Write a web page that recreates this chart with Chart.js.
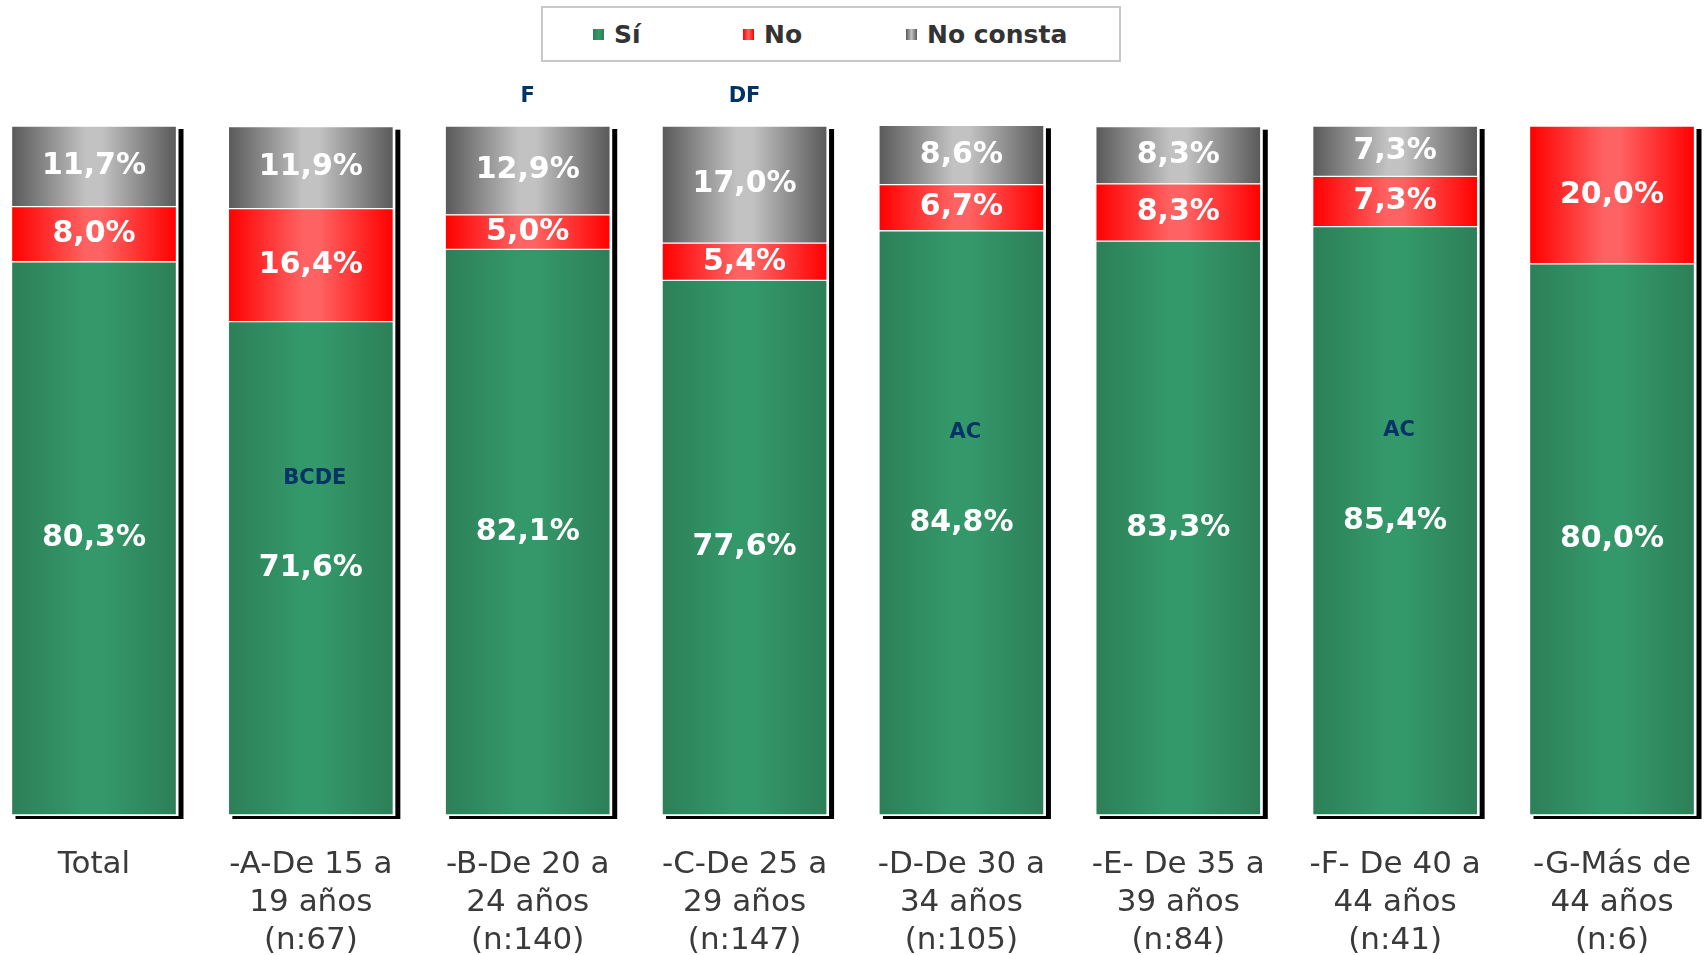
<!DOCTYPE html>
<html>
<head>
<meta charset="utf-8">
<script src="https://cdn.jsdelivr.net/npm/chart.js@4.4.1/dist/chart.umd.min.js"></script>
<style>
    body { margin: 0; background: #fff; }
    #wrap { position: relative; width: 1706px; height: 955px; }
    #legend {
        position: absolute; left: 541px; top: 6px; width: 576px; height: 52px;
        border: 2px solid #c8c8c8; background: #fff;
        font: bold 25px 'DejaVu Sans', sans-serif; color: #333;
    }
    .item { position: absolute; top: 0; height: 52px; display: flex; align-items: center; }
    .box { width: 11px; height: 11px; margin-right: 10px; }
</style>
</head>
<body>
<div id="wrap">
    <canvas id="chart" width="1706" height="955"></canvas>
    <div id="legend"></div>
</div>
<script>
// Datos
const categories = [
    ['Total'],
    ['-A-De 15 a', '19 años', '(n:67)'],
    ['-B-De 20 a', '24 años', '(n:140)'],
    ['-C-De 25 a', '29 años', '(n:147)'],
    ['-D-De 30 a', '34 años', '(n:105)'],
    ['-E- De 35 a', '39 años', '(n:84)'],
    ['-F- De 40 a', '44 años', '(n:41)'],
    ['-G-Más de', '44 años', '(n:6)']
];
const seriesNames = ['Sí', 'No', 'No consta'];
const siValues = [80.3, 71.6, 82.1, 77.6, 84.8, 83.3, 85.4, 80.0];
const noValues = [8.0, 16.4, 5.0, 5.4, 6.7, 8.3, 7.3, 20.0];
const noConstaValues = [11.7, 11.9, 12.9, 17.0, 8.6, 8.3, 7.3, 0];
// letras de significación
const sigInside = ['', 'BCDE', '', '', 'AC', '', 'AC', ''];
const sigAbove = ['', '', 'F', 'DF', '', '', '', ''];

const BAR_W = 165;
const shades = [
    ['#2d7f57', '#34996a'], // verde
    ['#ff0000', '#ff6262'], // rojo
    ['#595959', '#c2c2c2']  // gris
];

function barGradient(idx) {
    return function (ctx) {
        const chart = ctx.chart;
        const [dark, light] = shades[idx];
        if (!chart.chartArea) return dark;
        const x = chart.scales.x.getPixelForValue(ctx.dataIndex);
        const g = chart.ctx.createLinearGradient(x - BAR_W / 2, 0, x + BAR_W / 2, 0);
        g.addColorStop(0, dark);
        g.addColorStop(0.45, light);
        g.addColorStop(0.55, light);
        g.addColorStop(1, dark);
        return g;
    };
}

// leyenda html
const legendEl = document.getElementById('legend');
const legendLeft = [50, 200, 363];
seriesNames.forEach((name, i) => {
    const it = document.createElement('div');
    it.className = 'item';
    it.style.left = legendLeft[i] + 'px';
    const b = document.createElement('span');
    b.className = 'box';
    b.style.background = `linear-gradient(to right, ${shades[i][0]}, ${shades[i][1]}, ${shades[i][0]})`;
    it.appendChild(b);
    it.appendChild(document.createTextNode(name));
    legendEl.appendChild(it);
});

// sombra negra detrás de cada barra
const shadowPlugin = {
    id: 'shadow',
    beforeDatasetsDraw(chart) {
        const c = chart.ctx;
        const y = chart.scales.y;
        const bottom = y.getPixelForValue(0);
        categories.forEach((_, i) => {
            let top = bottom;
            chart.data.datasets.forEach((ds, d) => {
                const el = chart.getDatasetMeta(d).data[i];
                if (ds.data[i] > 0) top = Math.min(top, el.y);
            });
            const x = chart.scales.x.getPixelForValue(i);
            const l = x - BAR_W / 2, r = x + BAR_W / 2;
            c.save();
            c.fillStyle = '#000';
            c.fillRect(l + 4, top + 3, r - l + 3, bottom - top + 1);
            c.fillStyle = '#fff';
            c.fillRect(l - 2, top - 2, r - l + 4, bottom - top + 3);
            c.restore();
        });
    }
};

// etiquetas de valor y letras
const labelPlugin = {
    id: 'labels',
    afterDatasetsDraw(chart) {
        const c = chart.ctx;
        c.save();
        c.textAlign = 'center';
        c.textBaseline = 'middle';
        c.font = 'bold 30px "DejaVu Sans"';
        c.fillStyle = '#fff';
        chart.data.datasets.forEach((ds, d) => {
            chart.getDatasetMeta(d).data.forEach((el, i) => {
                const v = ds.data[i];
                if (!v) return;
                c.fillText(v.toFixed(1).replace('.', ',') + '%', el.x, (el.y + el.base) / 2);
            });
        });
        c.font = 'bold 21px "DejaVu Sans"';
        c.fillStyle = '#003366';
        const siMeta = chart.getDatasetMeta(0);
        const top = chart.scales.y.getPixelForValue(100);
        categories.forEach((_, i) => {
            const el = siMeta.data[i];
            if (sigInside[i]) c.fillText(sigInside[i], el.x + 4, (el.y + el.base) / 2 - 90);
            if (sigAbove[i]) c.fillText(sigAbove[i], el.x, top - 29);
        });
        c.restore();
    }
};

new Chart(document.getElementById('chart'), {
    type: 'bar',
    data: {
        labels: categories,
        datasets: [siValues, noValues, noConstaValues].map((vals, i) => ({
            label: seriesNames[i],
            data: vals,
            backgroundColor: barGradient(i),
            borderColor: '#ffffff',
            borderWidth: 1,
            borderSkipped: false,
            barThickness: BAR_W,
            clip: false
        }))
    },
    options: {
        responsive: false,
        animation: false,
        layout: { padding: { left: 94, right: 94, top: 126, bottom: 0 } },
        plugins: {
            legend: { display: false },
            tooltip: { enabled: false }
        },
        scales: {
            x: {
                stacked: true,
                offset: false,
                grid: { display: false, drawTicks: false },
                border: { display: false },
                ticks: {
                    color: '#3a3a3a',
                    font: { family: 'DejaVu Sans', size: 31, lineHeight: 1.23 },
                    padding: 31,
                    maxRotation: 0,
                    autoSkip: false
                },
                afterFit(scale) {
                    scale.height = 140;
                    scale.paddingLeft = 0;
                    scale.paddingRight = 0;
                }
            },
            y: {
                stacked: true,
                display: false,
                min: 0,
                max: 100
            }
        }
    },
    plugins: [shadowPlugin, labelPlugin]
});
</script>
</body>
</html>
